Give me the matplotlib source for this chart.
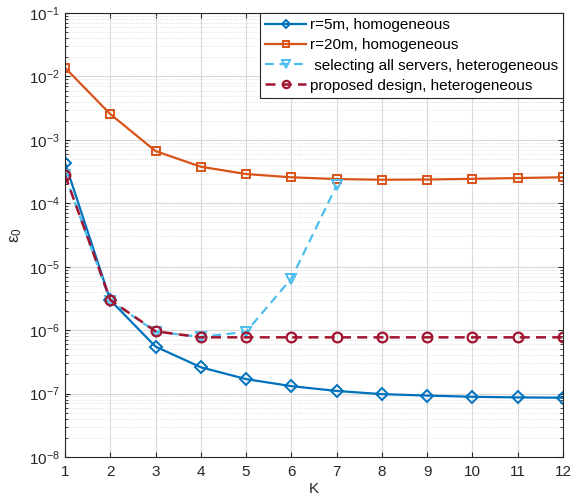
#!/usr/bin/env python3

import matplotlib
matplotlib.use('Agg')
import matplotlib.pyplot as plt
from matplotlib.ticker import LogLocator, NullFormatter

plt.rcParams['font.family'] = ['Liberation Sans', 'DejaVu Sans']
plt.rcParams['mathtext.fontset'] = 'custom'
plt.rcParams['mathtext.rm'] = 'Liberation Sans'
plt.rcParams['mathtext.it'] = 'Liberation Sans'

# Daten
K = [1, 2, 3, 4, 5, 6, 7, 8, 9, 10, 11, 12]
r5_homog = [4.35e-4, 2.97e-6, 5.5e-7, 2.6e-7, 1.69e-7, 1.31e-7, 1.10e-7,
            9.8e-8, 9.3e-8, 8.9e-8, 8.7e-8, 8.6e-8]
r20_homog = [1.37e-2, 2.55e-3, 6.65e-4, 3.77e-4, 2.89e-4, 2.57e-4, 2.41e-4,
             2.35e-4, 2.37e-4, 2.43e-4, 2.50e-4, 2.57e-4]
K_all = [1, 2, 3, 4, 5, 6, 7]
all_servers = [2.8e-4, 2.9e-6, 9.5e-7, 7.8e-7, 9.4e-7, 6.5e-6, 1.91e-4]
proposed = [2.79e-4, 3.0e-6, 9.6e-7, 7.7e-7, 7.7e-7, 7.7e-7, 7.7e-7,
            7.7e-7, 7.7e-7, 7.7e-7, 7.7e-7, 7.7e-7]

labels = ['r=5m, homogeneous', 'r=20m, homogeneous',
          ' selecting all servers, heterogeneous', 'proposed design, heterogeneous']

fig = plt.figure(figsize=(5.8, 4.99), dpi=100)
ax = fig.add_axes([65 / 580, 1 - 457 / 499, (563 - 65) / 580, (457 - 13) / 499])

ax.plot(K, r5_homog, color='#0072BD', marker='D', markersize=6, mfc='none',
        mew=1.4, lw=1.6, label=labels[0])
ax.plot(K, r20_homog, color='#D95319', marker='s', markersize=6, mfc='none',
        mew=1.4, lw=1.6, label=labels[1])
ax.plot(K_all, all_servers, color='#4DBEEE', marker='v', markersize=7, mfc='none',
        mew=1.4, lw=1.6, ls=(0, (4, 2.5)), label=labels[2])
ax.plot(K, proposed, color='#A2142F', marker='o', markersize=7, mfc='none',
        mew=1.6, lw=1.8, ls=(0, (4, 2.5)), label=labels[3])

ax.set_yscale('log')
ax.set_ylim(1e-8, 1e-1)
ax.set_xlim(1, 12)
ax.set_xticks(K)
ax.yaxis.set_major_locator(LogLocator(base=10, numticks=20))
ax.yaxis.set_minor_locator(LogLocator(base=10, subs=range(2, 10), numticks=20))
ax.yaxis.set_minor_formatter(NullFormatter())

ax.grid(True, which='major', color='#d9d9d9', lw=0.8)
ax.grid(True, which='minor', color='#d9d9d9', lw=0.6, ls=':')
ax.set_axisbelow(True)

for s in ax.spines.values():
    s.set_color('#262626')
    s.set_linewidth(0.8)
ax.tick_params(which='both', direction='in', colors='#262626', labelsize=11,
               top=True, right=True)
ax.tick_params(axis='x', pad=6)

ax.set_xlabel('K', fontsize=11, color='#262626', labelpad=2)
ax.set_ylabel(r'$\epsilon_0$', fontsize=12, color='#262626', labelpad=4)

leg = ax.legend(loc='upper right', fontsize=11, frameon=True, fancybox=False,
                edgecolor='#262626', framealpha=1, borderaxespad=0,
                handlelength=2.7, handletextpad=0.2, labelspacing=0.4,
                borderpad=0.35, markerscale=0.75)
leg.get_frame().set_linewidth(0.8)

plt.savefig('out.png', dpi=100)
